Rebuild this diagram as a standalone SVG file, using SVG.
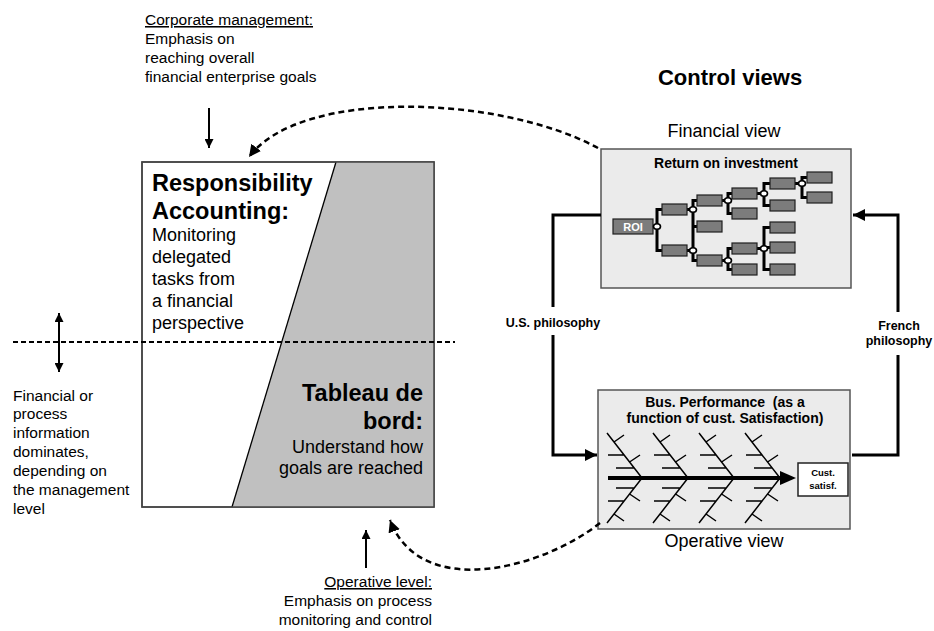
<svg xmlns="http://www.w3.org/2000/svg" width="934" height="631" viewBox="0 0 934 631">
  <style>
    text { font-family: "Liberation Sans", Arial, sans-serif; fill: #000; }
    .note { font-size: 15.5px; }
    .body { font-size: 18px; }
    .head { font-size: 23.5px; font-weight: bold; }
    .lbl { font-size: 12.5px; font-weight: bold; }
    .ttl { font-size: 14px; font-weight: bold; white-space: pre; }
    .panel { fill: #ebebeb; stroke: #555; stroke-width: 1.5; }
    .kb { fill: #7c7c7c; stroke: #1e1e1e; stroke-width: 1.2; }
    .bar { fill: none; stroke: #000; stroke-width: 3; stroke-linejoin: miter; }
    .jn { fill: #fff; stroke: #000; stroke-width: 1.6; }
    .bone { fill: none; stroke: #000; stroke-width: 1.5; }
    .flow { fill: none; stroke: #000; stroke-width: 3; }
    .dash { fill: none; stroke: #000; stroke-width: 2.5; stroke-dasharray: 6 4; }
    .thin { fill: none; stroke: #000; stroke-width: 2; }
  </style>
  <defs>
    <marker id="ah" viewBox="0 0 10 10" refX="10" refY="5" markerWidth="12" markerHeight="12" markerUnits="userSpaceOnUse" orient="auto">
      <path d="M0,0 L10,5 L0,10 z" fill="#000"/>
    </marker>
    <marker id="ahs" viewBox="0 0 10 10" refX="10" refY="5" markerWidth="10" markerHeight="9" markerUnits="userSpaceOnUse" orient="auto-start-reverse">
      <path d="M0,0 L10,5 L0,10 z" fill="#000"/>
    </marker>
    <!-- one upper fishbone bone, spine joint at x=0 -->
    <g id="bone">
      <path class="bone" d="M-35,433 L0,478 M-28,442 L-18,435 M-18,455 H-34 M-12.4,462 L-2,455 M-7.8,468 H-26"/>
    </g>
  </defs>

  <!-- Corporate management note -->
  <g id="corporate-note">
    <text class="note" x="145" y="25" text-decoration="underline">Corporate management:</text>
    <text class="note" x="145" y="44">Emphasis on</text>
    <text class="note" x="145" y="63">reaching overall</text>
    <text class="note" x="145" y="82">financial enterprise goals</text>
  </g>

  <!-- Responsibility accounting / tableau de bord box -->
  <g id="responsibility-box">
    <rect x="142" y="162" width="292" height="345" fill="#fff" stroke="#444" stroke-width="1.5"/>
    <polygon points="336,162 434,162 434,507 232,507" fill="#c0c0c0"/>
    <line x1="336" y1="162" x2="232" y2="507" stroke="#000" stroke-width="1.3"/>
    <rect x="142" y="162" width="292" height="345" fill="none" stroke="#444" stroke-width="1.5"/>
    <text class="head" x="152" y="191">Responsibility</text>
    <text class="head" x="152" y="219">Accounting:</text>
    <text class="body" x="152" y="241">Monitoring</text>
    <text class="body" x="152" y="263">delegated</text>
    <text class="body" x="152" y="285">tasks from</text>
    <text class="body" x="152" y="307">a financial</text>
    <text class="body" x="152" y="329">perspective</text>
    <text class="head" x="423" y="401" text-anchor="end">Tableau de</text>
    <text class="head" x="423" y="429" text-anchor="end">bord:</text>
    <text class="body" x="423" y="453" text-anchor="end">Understand how</text>
    <text class="body" x="423" y="474" text-anchor="end">goals are reached</text>
  </g>

  <!-- Management level note -->
  <g id="level-note">
    <text class="note" x="13" y="401">Financial or</text>
    <text class="note" x="13" y="419">process</text>
    <text class="note" x="13" y="438">information</text>
    <text class="note" x="13" y="457">dominates,</text>
    <text class="note" x="13" y="476">depending on</text>
    <text class="note" x="13" y="495">the management</text>
    <text class="note" x="13" y="514">level</text>
  </g>

  <!-- Operative level note -->
  <g id="operative-note">
    <text class="note" x="432" y="587" text-anchor="end" text-decoration="underline">Operative level:</text>
    <text class="note" x="432" y="606" text-anchor="end">Emphasis on process</text>
    <text class="note" x="432" y="625" text-anchor="end">monitoring and control</text>
  </g>

  <!-- Title -->
  <g id="control-views">
    <text x="730" y="85" text-anchor="middle" font-size="22" font-weight="bold">Control views</text>
  </g>

  <!-- Financial view: ROI tree -->
  <g id="financial-view">
    <text class="body" x="724" y="137" text-anchor="middle">Financial view</text>
    <rect class="panel" x="601" y="149" width="250" height="139"/>
    <text class="ttl" x="726" y="168" text-anchor="middle">Return on investment</text>
    <path class="bar" d="M653,226.5 H657 M662,209.5 H657 V250.5 H662
      M687,209.5 H693 M687,250.5 H693 M697,200.5 H693 V260.5 H697 M693,226.5 H697
      M722,200.5 H728 M732,193.5 H728 V213.5 H732
      M722,260.5 H728 M732,248.5 H728 V269.5 H732
      M757,193.5 H764 M770,183.5 H764 V205.5 H770
      M757,248.5 H764 M770,227.5 H764 V269.5 H770 M764,247.5 H770
      M795,183.5 H802 M807,177.5 H802 V197.5 H807"/>
    <rect class="kb" x="613" y="219" width="40" height="15"/>
    <text x="633" y="231" text-anchor="middle" font-size="11" font-weight="bold" style="fill:#fff">ROI</text>
    <rect class="kb" x="662" y="204" width="25" height="11"/>
    <rect class="kb" x="662" y="245" width="25" height="11"/>
    <rect class="kb" x="697" y="195" width="25" height="11"/>
    <rect class="kb" x="697" y="221" width="25" height="11"/>
    <rect class="kb" x="697" y="255" width="25" height="11"/>
    <rect class="kb" x="732" y="188" width="25" height="11"/>
    <rect class="kb" x="732" y="208" width="25" height="11"/>
    <rect class="kb" x="732" y="243" width="25" height="11"/>
    <rect class="kb" x="732" y="264" width="25" height="11"/>
    <rect class="kb" x="770" y="178" width="25" height="11"/>
    <rect class="kb" x="770" y="200" width="25" height="11"/>
    <rect class="kb" x="770" y="222" width="25" height="11"/>
    <rect class="kb" x="770" y="242" width="25" height="11"/>
    <rect class="kb" x="770" y="264" width="25" height="11"/>
    <rect class="kb" x="807" y="172" width="25" height="11"/>
    <rect class="kb" x="807" y="192" width="25" height="11"/>
    <ellipse class="jn" cx="657" cy="226.5" rx="3.5" ry="2.8"/>
    <ellipse class="jn" cx="693" cy="209.5" rx="3.5" ry="2.8"/>
    <ellipse class="jn" cx="693" cy="250.5" rx="3.5" ry="2.8"/>
    <ellipse class="jn" cx="728" cy="200.5" rx="3.5" ry="2.8"/>
    <ellipse class="jn" cx="728" cy="260.5" rx="3.5" ry="2.8"/>
    <ellipse class="jn" cx="764" cy="193.5" rx="3.5" ry="2.8"/>
    <ellipse class="jn" cx="764" cy="248.5" rx="3.5" ry="2.8"/>
    <ellipse class="jn" cx="802" cy="183.5" rx="3.5" ry="2.8"/>
  </g>

  <!-- Operative view: fishbone -->
  <g id="operative-view">
    <rect class="panel" x="598" y="390" width="252" height="139"/>
    <text class="ttl" x="725" y="407" text-anchor="middle">Bus. Performance  (as a</text>
    <text class="ttl" x="725" y="423" text-anchor="middle">function of cust. Satisfaction)</text>
    <use href="#bone" transform="translate(642,0)"/>
    <use href="#bone" transform="translate(688,0)"/>
    <use href="#bone" transform="translate(734,0)"/>
    <use href="#bone" transform="translate(780,0)"/>
    <use href="#bone" transform="translate(642,956) scale(1,-1)"/>
    <use href="#bone" transform="translate(688,956) scale(1,-1)"/>
    <use href="#bone" transform="translate(734,956) scale(1,-1)"/>
    <use href="#bone" transform="translate(780,956) scale(1,-1)"/>
    <line x1="608" y1="478" x2="782" y2="478" stroke="#000" stroke-width="4"/>
    <polygon points="780,471 796,478 780,485" fill="#000"/>
    <rect x="798" y="463" width="50" height="33" fill="#fff" stroke="#222" stroke-width="1.5"/>
    <text x="823" y="476" text-anchor="middle" font-size="9.5" font-weight="bold">Cust.</text>
    <text x="823" y="489" text-anchor="middle" font-size="9.5" font-weight="bold">satisf.</text>
    <text class="body" x="724" y="547" text-anchor="middle">Operative view</text>
  </g>

  <!-- Connectors -->
  <g id="connectors">
    <line x1="13" y1="342" x2="455" y2="342" stroke="#000" stroke-width="2" stroke-dasharray="5 3"/>
    <line class="thin" x1="59" y1="313" x2="59" y2="372" marker-start="url(#ahs)" marker-end="url(#ahs)"/>
    <line class="thin" x1="209" y1="108" x2="209" y2="148" marker-end="url(#ahs)"/>
    <line class="thin" x1="366" y1="568" x2="366" y2="530" marker-end="url(#ahs)"/>
    <path class="dash" d="M598,148 C500,95 300,88 249,157" marker-end="url(#ah)"/>
    <path class="dash" d="M600,523 C540,570 420,600 390,520" marker-end="url(#ah)"/>
    <!-- U.S. philosophy: financial -> operative -->
    <path class="flow" d="M601,215 H553 V307 M553,335 V455 H597" marker-end="url(#ah)"/>
    <text class="lbl" x="553" y="327" text-anchor="middle">U.S. philosophy</text>
    <!-- French philosophy: operative -> financial -->
    <path class="flow" d="M852,455 H898 V355 M898,312 V215 H853" marker-end="url(#ah)"/>
    <text class="lbl" x="899" y="330" text-anchor="middle">French</text>
    <text class="lbl" x="899" y="345" text-anchor="middle">philosophy</text>
  </g>
</svg>
